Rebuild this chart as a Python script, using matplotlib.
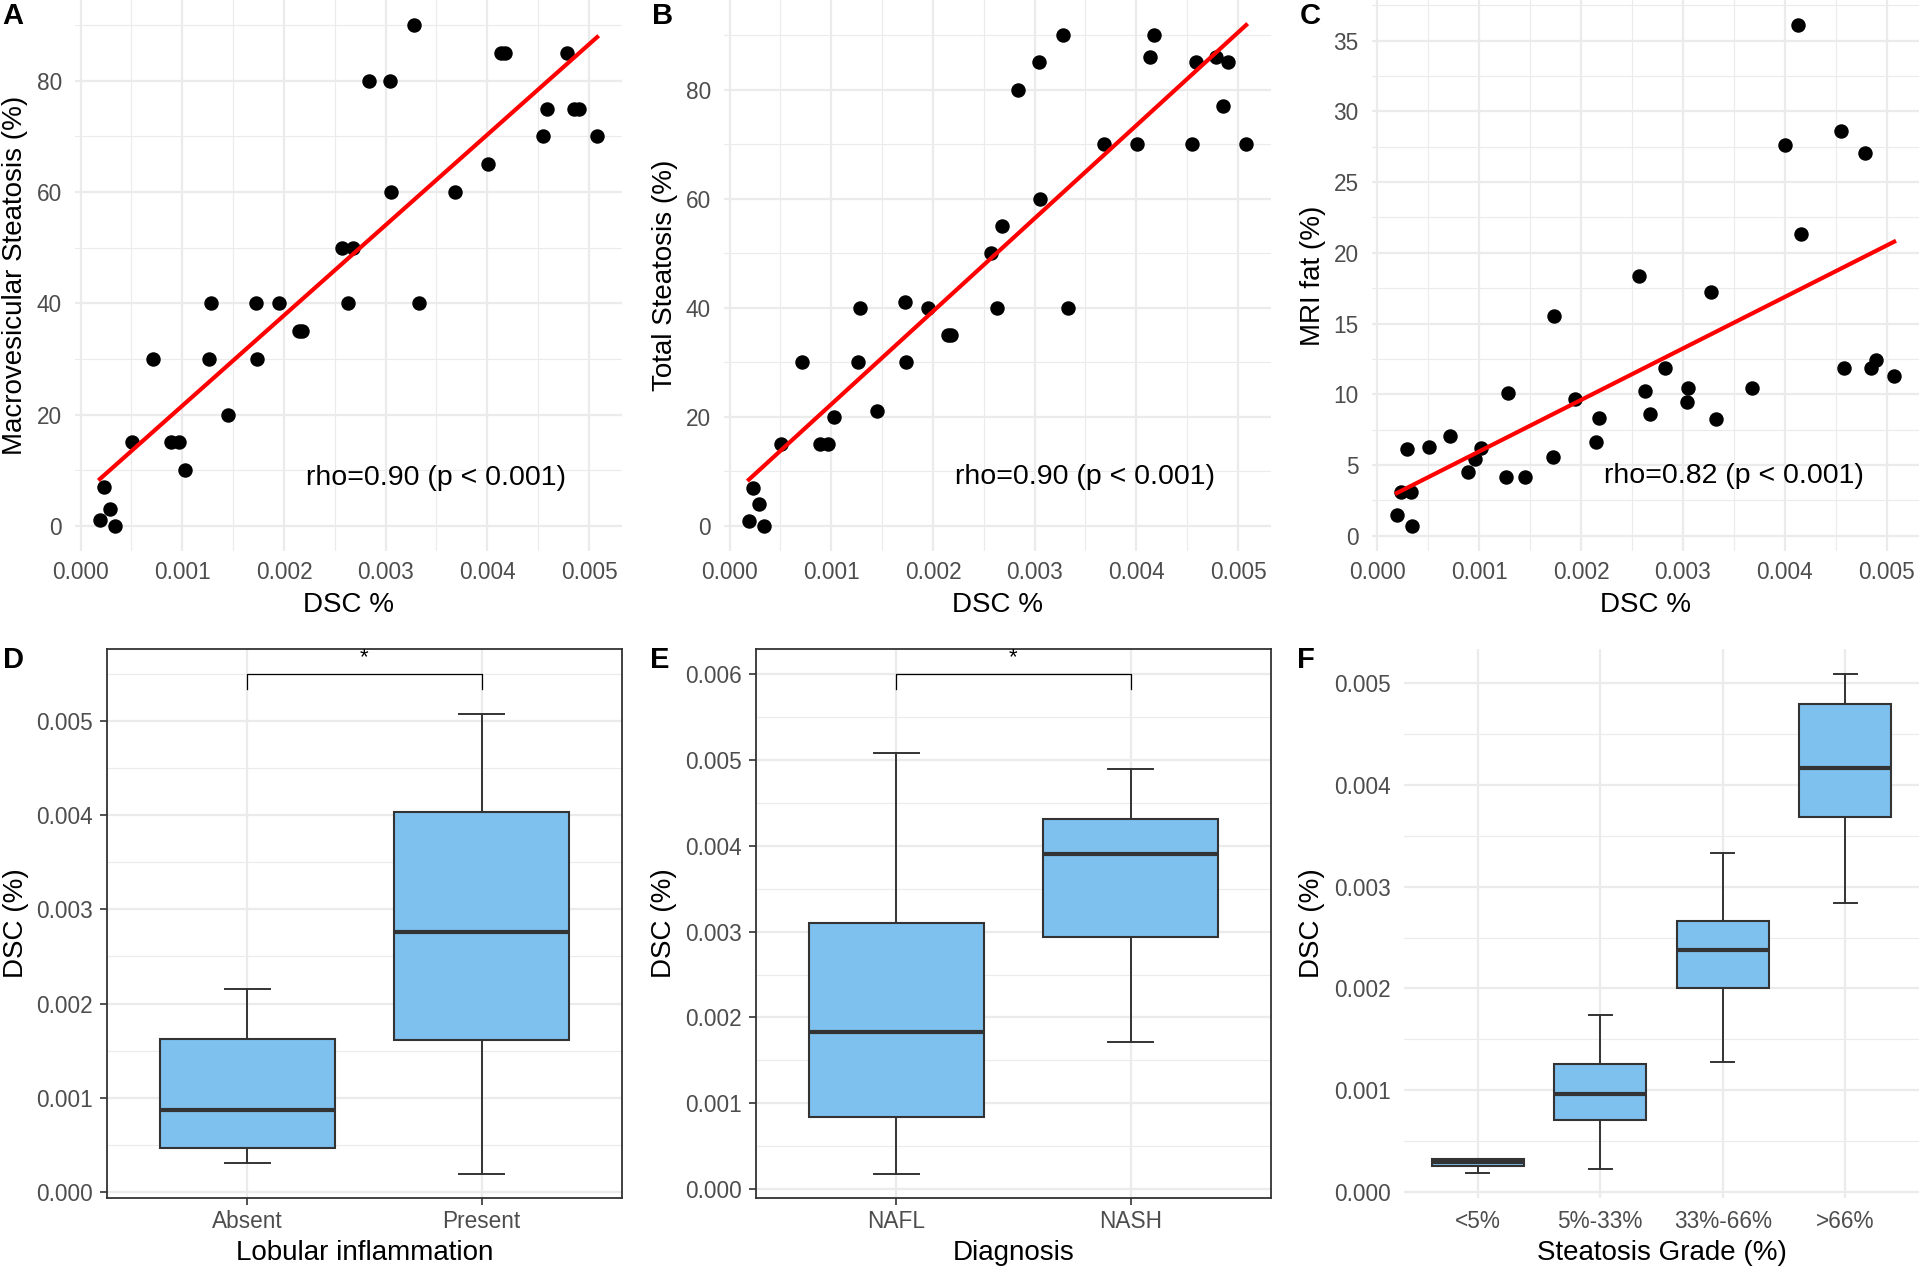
import numpy as np
import matplotlib.pyplot as plt
from matplotlib.ticker import FormatStrFormatter

plt.rcParams['font.family'] = ['Liberation Sans', 'DejaVu Sans']

# ---- data ----
# panels A and B: DSC % per biopsy
dsc = [0.000189, 0.000233, 0.000290, 0.000335, 0.000506, 0.000715, 0.000885, 0.000965,
       0.001024, 0.001266, 0.001278, 0.001450, 0.001720, 0.001732, 0.001947, 0.002150,
       0.002180, 0.002575, 0.002682, 0.002627, 0.002834, 0.003047, 0.003053, 0.003283,
       0.003331, 0.003682, 0.004010, 0.004133, 0.004170, 0.004552, 0.004587, 0.004787,
       0.004855, 0.004904, 0.005080]
macro_steatosis = [1, 7, 3, 0, 15, 30, 15, 15, 10, 30, 40, 20, 40, 30, 40, 35, 35, 50,
                   50, 40, 80, 80, 60, 90, 40, 60, 65, 85, 85, 70, 75, 85, 75, 75, 70]
total_steatosis = [1, 7, 4, 0, 15, 30, 15, 15, 20, 30, 40, 21, 41, 30, 40, 35, 35, 50,
                   55, 40, 80, 85, 60, 90, 40, 70, 70, 86, 90, 70, 85, 86, 77, 85, 70]

# panel C: DSC % vs MRI fat
dsc_mri = [0.000192, 0.000228, 0.000292, 0.000329, 0.000337, 0.000509, 0.000713, 0.000889,
           0.000962, 0.001018, 0.001266, 0.001278, 0.001446, 0.001723, 0.001731, 0.001943,
           0.002147, 0.002171, 0.002572, 0.002624, 0.002676, 0.002825, 0.003041, 0.003045,
           0.003277, 0.003325, 0.003678, 0.004003, 0.004127, 0.004159, 0.004547, 0.004579,
           0.004784, 0.004848, 0.004896, 0.005072]
mri_fat = [1.48, 3.13, 6.15, 3.13, 0.70, 6.30, 7.05, 4.50, 5.45, 6.20, 4.17, 10.10,
           4.17, 5.56, 15.57, 9.65, 6.65, 8.33, 18.37, 10.23, 8.64, 11.85, 9.45, 10.46,
           17.22, 8.28, 10.46, 27.60, 36.10, 21.33, 28.60, 11.85, 27.03, 11.85, 12.44, 11.30]

rho_labels = ['rho=0.90 (p < 0.001)', 'rho=0.90 (p < 0.001)', 'rho=0.82 (p < 0.001)']

# boxplots: [whisker low, Q1, median, Q3, whisker high]
lob_groups = ['Absent', 'Present']
lob_stats = [[0.000302, 0.000466, 0.000872, 0.001624, 0.002155],
             [0.000194, 0.001615, 0.002759, 0.004033, 0.005078]]
diag_groups = ['NAFL', 'NASH']
diag_stats = [[0.000180, 0.000844, 0.001830, 0.003104, 0.005085],
              [0.001711, 0.002934, 0.003905, 0.004318, 0.004900]]
grade_groups = ['<5%', '5%-33%', '33%-66%', '>66%']
grade_stats = [[0.000187, 0.000259, 0.000295, 0.000323, 0.000327],
               [0.000227, 0.000709, 0.000964, 0.001259, 0.001737],
               [0.001279, 0.002000, 0.002378, 0.002665, 0.003327],
               [0.002837, 0.003681, 0.004163, 0.004789, 0.005088]]

# significance brackets (D, E): bar height, leg end
lob_bracket = (0.005497, 0.005341)
diag_bracket = (0.006000, 0.005830)

W, H = 1920, 1269
fig = plt.figure(figsize=(W / 100, H / 100), dpi=100)


def add_ax(l, t, r, b):
    return fig.add_axes([l / W, 1 - b / H, (r - l) / W, (b - t) / H])


GRID = '#EBEBEB'
TICK = '#4D4D4D'
DARK = '#333333'
FILL = '#7EC0EE'


def scatter_panel(ax, x, y, ylabel, rho, rho_y, ymaj, ymin, ylab_x):
    ax.plot(x, y, 'o', color='black', ms=9.4, zorder=3)
    slope, icpt = np.polyfit(x, y, 1)
    xs = np.array([min(x), max(x)])
    ax.plot(xs, slope * xs + icpt, color='red', lw=3.0, zorder=4)
    ax.margins(0.05)
    ax.set_xticks(np.arange(0, 0.0051, 0.001))
    ax.set_xticks(np.arange(0.0005, 0.0051, 0.001), minor=True)
    ax.set_yticks(ymaj)
    ax.set_yticks(ymin, minor=True)
    ax.xaxis.set_major_formatter(FormatStrFormatter('%.3f'))
    ax.grid(which='major', color=GRID, lw=1.6)
    ax.grid(which='minor', color=GRID, lw=0.8)
    ax.set_axisbelow(True)
    for s in ax.spines.values():
        s.set_visible(False)
    ax.tick_params(which='both', length=0, labelsize=16.3, labelcolor=TICK)
    ax.tick_params(axis='x', pad=7)
    ax.tick_params(axis='y', pad=9.5)
    ax.set_xlabel('DSC %', fontsize=20, va='center')
    ax.xaxis.set_label_coords(0.5, -0.098)
    ax.set_ylabel(ylabel, fontsize=20, va='center')
    ax.yaxis.set_label_coords(ylab_x, 0.5)
    ax.text(0.0035, rho_y, rho, fontsize=20.5, ha='center', va='center')


def box_panel(ax, stats, groups, xlabel, ylim, yticks, framed, bracket, ylab_x):
    bstats = [dict(whislo=s[0], q1=s[1], med=s[2], q3=s[3], whishi=s[4], fliers=[])
              for s in stats]
    pos = list(range(1, len(stats) + 1))
    ax.bxp(bstats, positions=pos, widths=0.75, patch_artist=True, showfliers=False,
           capwidths=0.19,
           boxprops=dict(facecolor=FILL, edgecolor=DARK, linewidth=1.5),
           medianprops=dict(color=DARK, linewidth=3.0, solid_capstyle='butt'),
           whiskerprops=dict(color=DARK, linewidth=1.4),
           capprops=dict(color=DARK, linewidth=1.4))
    ax.set_xlim(0.4, len(stats) + 0.6)
    ax.set_ylim(*ylim)
    ax.set_xticks(pos)
    ax.set_xticklabels(groups)
    ax.set_yticks(yticks)
    ax.set_yticks(np.arange(0.0005, ylim[1], 0.001), minor=True)
    ax.yaxis.set_major_formatter(FormatStrFormatter('%.3f'))
    ax.grid(which='major', color=GRID, lw=1.6)
    ax.grid(which='minor', axis='y', color=GRID, lw=0.8)
    ax.set_axisbelow(True)
    if framed:
        for s in ax.spines.values():
            s.set_color(DARK)
            s.set_linewidth(1.3)
        ax.tick_params(which='major', length=5, width=1.2, color=DARK)
        ax.tick_params(axis='x', pad=4)
        ax.tick_params(axis='y', pad=5)
    else:
        for s in ax.spines.values():
            s.set_visible(False)
        ax.tick_params(which='major', length=0)
        ax.tick_params(axis='x', pad=8.6)
        ax.tick_params(axis='y', pad=9.4)
    ax.tick_params(which='minor', length=0)
    ax.tick_params(labelsize=16.3, labelcolor=TICK)
    ax.set_xlabel(xlabel, fontsize=20, va='center')
    ax.xaxis.set_label_coords(0.5, -0.1)
    ax.set_ylabel('DSC (%)', fontsize=20, va='center')
    ax.yaxis.set_label_coords(ylab_x, 0.5)
    if bracket is not None:
        top, tip = bracket
        ax.plot([1, 1, 2, 2], [tip, top, top, tip], color='black', lw=0.9)
        span = ylim[1] - ylim[0]
        ax.text(1.5, top + span * 0.02, '*', fontsize=16, ha='center', va='baseline')


# ---- top row ----
axA = add_ax(75, 0, 622, 551)
scatter_panel(axA, dsc, macro_steatosis, 'Macrovesicular Steatosis (%)', rho_labels[0], 8.6,
              [0, 20, 40, 60, 80], [10, 30, 50, 70, 90], -0.1097)
axB = add_ax(724, 0, 1271, 551)
scatter_panel(axB, dsc, total_steatosis, 'Total Steatosis (%)', rho_labels[1], 8.9,
              [0, 20, 40, 60, 80], [10, 30, 50, 70, 90], -0.1079)
axC = add_ax(1372, 0, 1919, 551)
scatter_panel(axC, dsc_mri, mri_fat, 'MRI fat (%)', rho_labels[2], 4.2,
              np.arange(0, 36, 5), np.arange(2.5, 40, 5), -0.1079)

# ---- bottom row ----
axD = add_ax(107, 649, 622, 1198)
box_panel(axD, lob_stats, lob_groups, 'Lobular inflammation', (-0.0000648, 0.005764),
          np.arange(0, 0.0051, 0.001), True, lob_bracket, -0.1767)
axE = add_ax(756, 649, 1271, 1198)
box_panel(axE, diag_stats, diag_groups, 'Diagnosis', (-0.000104, 0.006294),
          np.arange(0, 0.0061, 0.001), True, diag_bracket, -0.1786)
axF = add_ax(1404, 649, 1919, 1198)
box_panel(axF, grade_stats, grade_groups, 'Steatosis Grade (%)', (-0.000058, 0.005333),
          np.arange(0, 0.0051, 0.001), False, None, -0.1786)

# panel tags
for tag, x, y in [('A', 2, 2), ('B', 652, 2), ('C', 1300, 2),
                  ('D', 3, 646), ('E', 650, 646), ('F', 1297, 646)]:
    fig.text(x / W, 1 - y / H, tag, fontsize=21, fontweight='bold', ha='left', va='top')

fig.savefig('out.png', dpi=100)
